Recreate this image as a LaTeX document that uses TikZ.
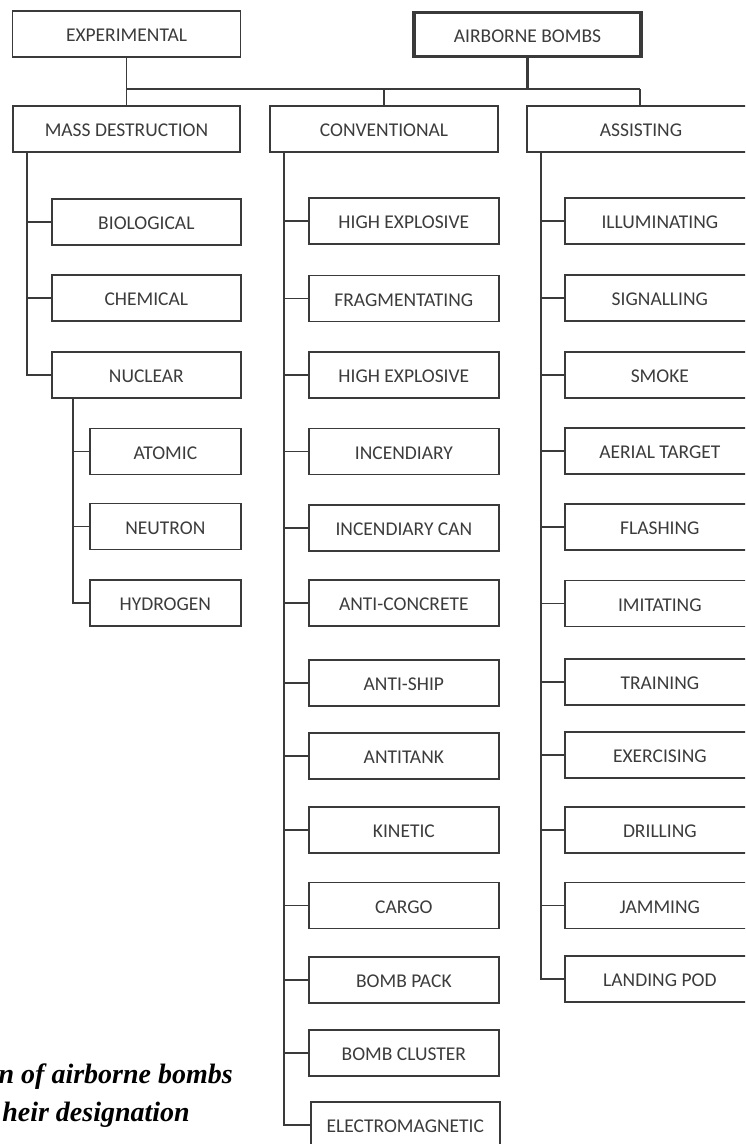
\documentclass[tikz,border=0pt]{standalone}
\usepackage{fontspec}
\setmainfont{Carlito}
\newfontfamily\capfont{Liberation Serif}
\definecolor{linec}{HTML}{3A3A3A}
\definecolor{textc}{HTML}{3C3C3C}
\tikzset{
  box/.style={draw=linec, line width=1.7pt, minimum height=46pt, inner sep=0pt,
    text height=15.5pt, text depth=0pt,
    text=textc, font=\fontsize{19.5}{22}\selectfont, fill=white},
  rootbox/.style={box, line width=3.5pt},
  conn/.style={draw=linec, line width=1.7pt},
  rootconn/.style={draw=linec, line width=3pt},
  capt/.style={font=\capfont\bfseries\itshape\fontsize{28}{32}\selectfont, inner sep=0pt, anchor=base east, text=black}
}
\begin{document}
\begin{tikzpicture}[x=1pt,y=-1pt]
\useasboundingbox (0,0) rectangle (745,1144);
\clip (0,0) rectangle (745,1144);
\fill[white] (0,0) rectangle (745,1144);

% top level
\node[box, minimum width=228pt] (exp) at (126.5,34) {EXPERIMENTAL};
\node[rootbox, minimum width=227pt, minimum height=44pt] (ab) at (527.5,34.5) {AIRBORNE BOMBS};
\node[box, minimum width=227pt] (md) at (126.5,129) {MASS DESTRUCTION};
\node[box, minimum width=228pt] (conv) at (384,129) {CONVENTIONAL};
\node[box, minimum width=228pt] (ass) at (641,129) {ASSISTING};

\coordinate (bl) at (126.5,89);
\coordinate (br) at (640,89);
\draw[conn] (exp.south) -- (md.north);
\draw[conn] (bl) -- (br);
\draw[rootconn] (ab.south) -- (ab.south |- bl);
\draw[conn] (conv.north) -- (conv.north |- bl);
\draw[conn] (br) -- (br |- ass.north);

% mass destruction branch
\node[box, anchor=west, minimum width=189pt] (bio) at (51,222) {BIOLOGICAL};
\node[box, anchor=west, minimum width=189pt] (chem) at (51,298) {CHEMICAL};
\node[box, anchor=west, minimum width=189pt] (nuc) at (51,375) {NUCLEAR};
\coordinate (mdt) at ([xshift=15pt]md.south west);
\draw[conn] (mdt) |- (bio.west);
\draw[conn] (mdt) |- (chem.west);
\draw[conn] (mdt) |- (nuc.west);

% nuclear branch
\node[box, anchor=west, minimum width=151pt] (atom) at (89,451.5) {ATOMIC};
\node[box, anchor=west, minimum width=151pt] (neut) at (89,526.5) {NEUTRON};
\node[box, anchor=west, minimum width=151pt] (hydr) at (89,603) {HYDROGEN};
\coordinate (nt) at ([xshift=22pt]nuc.south west);
\draw[conn] (nt) |- (atom.west);
\draw[conn] (nt) |- (neut.west);
\draw[conn] (nt) |- (hydr.west);

% conventional branch
\node[box, anchor=west, minimum width=190pt] (c1) at (308,221) {HIGH EXPLOSIVE};
\node[box, anchor=west, minimum width=190pt] (c2) at (308,298.5) {FRAGMENTATING};
\node[box, anchor=west, minimum width=190pt] (c3) at (308,375) {HIGH EXPLOSIVE};
\node[box, anchor=west, minimum width=190pt] (c4) at (308,451.5) {INCENDIARY};
\node[box, anchor=west, minimum width=190pt] (c5) at (308,528) {INCENDIARY CAN};
\node[box, anchor=west, minimum width=190pt] (c6) at (308,603) {ANTI-CONCRETE};
\node[box, anchor=west, minimum width=190pt] (c7) at (308,683) {ANTI-SHIP};
\node[box, anchor=west, minimum width=190pt] (c8) at (308,756) {ANTITANK};
\node[box, anchor=west, minimum width=190pt] (c9) at (308,830) {KINETIC};
\node[box, anchor=west, minimum width=190pt] (c10) at (308,905.5) {CARGO};
\node[box, anchor=west, minimum width=190pt] (c11) at (308,980) {BOMB PACK};
\node[box, anchor=west, minimum width=190pt] (c12) at (308,1053) {BOMB CLUSTER};
\node[box, anchor=west, minimum width=189pt] (c13) at (310,1125) {ELECTROMAGNETIC};
\coordinate (ct) at ([xshift=15pt]conv.south west);
\foreach \n in {c1,c2,c3,c4,c5,c6,c7,c8,c9,c10,c11,c12,c13}
  \draw[conn] (ct) |- (\n.west);

% assisting branch
\node[box, anchor=west, minimum width=190pt] (a1) at (564,221) {ILLUMINATING};
\node[box, anchor=west, minimum width=190pt] (a2) at (564,298) {SIGNALLING};
\node[box, anchor=west, minimum width=190pt] (a3) at (564,375) {SMOKE};
\node[box, anchor=west, minimum width=190pt] (a4) at (564,451) {AERIAL TARGET};
\node[box, anchor=west, minimum width=190pt] (a5) at (564,527) {FLASHING};
\node[box, anchor=west, minimum width=190pt] (a6) at (564,603.5) {IMITATING};
\node[box, anchor=west, minimum width=190pt] (a7) at (564,682) {TRAINING};
\node[box, anchor=west, minimum width=190pt] (a8) at (564,755) {EXERCISING};
\node[box, anchor=west, minimum width=190pt] (a9) at (564,830) {DRILLING};
\node[box, anchor=west, minimum width=190pt] (a10) at (564,905.5) {JAMMING};
\node[box, anchor=west, minimum width=190pt] (a11) at (564,979) {LANDING POD};
\coordinate (at) at ([xshift=15pt]ass.south west);
\foreach \n in {a1,a2,a3,a4,a5,a6,a7,a8,a9,a10,a11}
  \draw[conn] (at) |- (\n.west);

% caption (cut at the left edge)
\node[capt] (cap1) at (233,1083) {n of airborne bombs};
\node[capt] (cap2) at (190,1121) {heir designation};
\end{tikzpicture}
\end{document}
